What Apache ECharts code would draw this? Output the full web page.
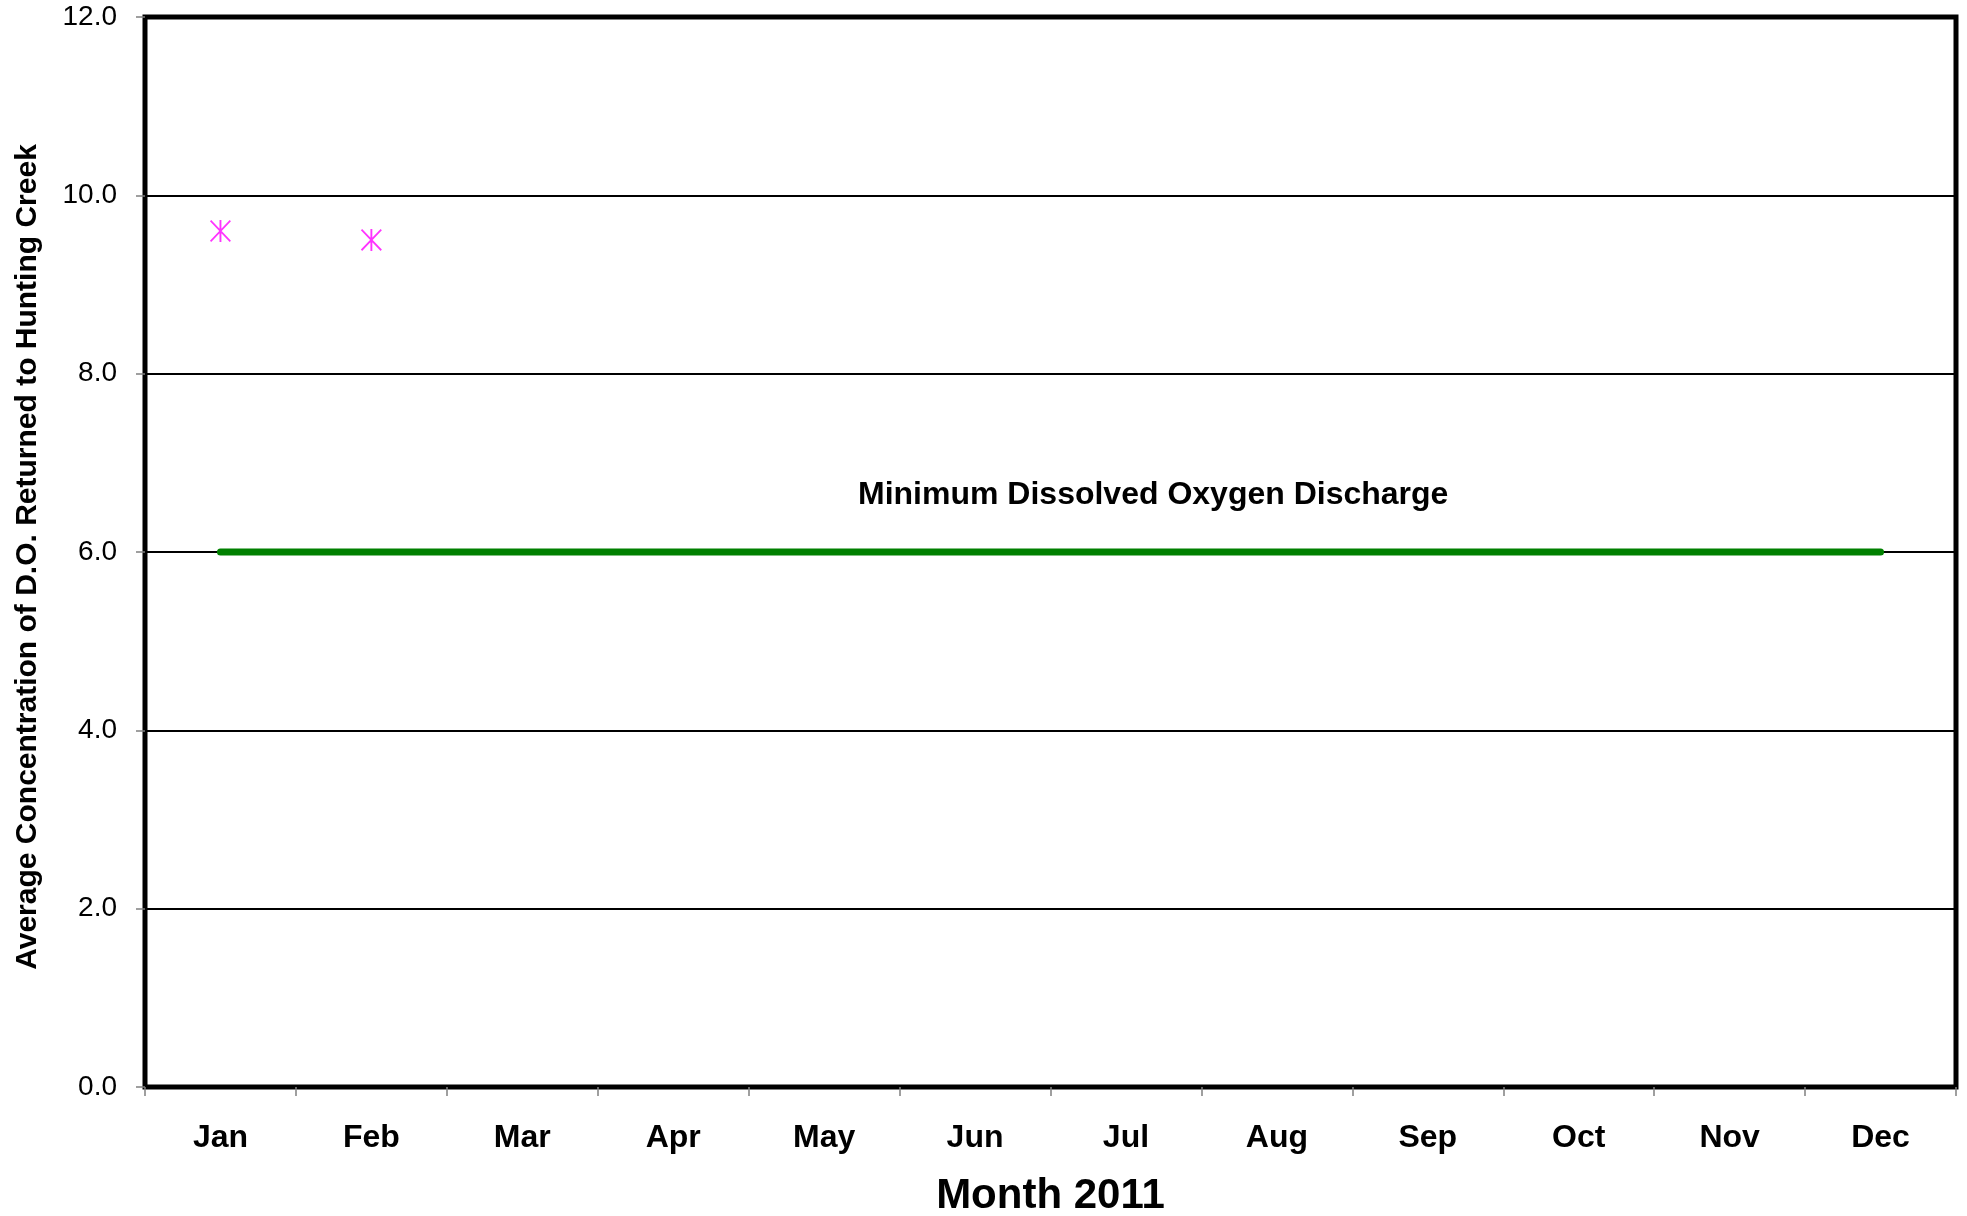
<!DOCTYPE html>
<html>
<head>
<meta charset="utf-8">
<script src="https://cdn.jsdelivr.net/npm/echarts@6/dist/echarts.min.js"></script>
<style>
html,body{margin:0;padding:0;background:#fff;}
#chart{width:1967px;height:1216px;}
</style>
</head>
<body>
<div id="chart"></div>
<script>
// ---- data ----
const months = ['Jan','Feb','Mar','Apr','May','Jun','Jul','Aug','Sep','Oct','Nov','Dec'];
const doValues = [9.6, 9.5, null, null, null, null, null, null, null, null, null, null];
const minimumDO = [6, 6, 6, 6, 6, 6, 6, 6, 6, 6, 6, 6];
const yTicks = [0, 2, 4, 6, 8, 10, 12];
const yAxisTitle = 'Average Concentration of D.O. Returned to Hunting Creek';
const xAxisTitle = 'Month 2011';
const annotationText = 'Minimum Dissolved Oxygen Discharge';

const FONT = '"Liberation Sans", Arial, Helvetica, sans-serif';
const asterisk = 'path://M45.5 0 L54.5 0 L54.5 100 L45.5 100 Z M0 6 L6 0 L100 94 L94 100 Z M94 0 L100 6 L6 100 L0 94 Z';

const chart = echarts.init(document.getElementById('chart'));
chart.setOption({
  animation: false,
  backgroundColor: '#ffffff',
  grid: {
    left: 145, top: 17, right: 11, bottom: 129,
    containLabel: false,
    outerBoundsMode: 'none',
    show: true, borderColor: '#000', borderWidth: 5, backgroundColor: 'transparent'
  },
  xAxis: {
    type: 'category',
    data: months,
    boundaryGap: true,
    axisLine: { show: false },
    axisTick: { show: true, length: 9, lineStyle: { color: '#808080', width: 1.5 } },
    axisLabel: { color: '#000', fontFamily: FONT, fontWeight: 'bold', fontSize: 32, margin: 35 },
    name: xAxisTitle,
    nameLocation: 'middle',
    nameGap: 88,
    nameTextStyle: { color: '#000', fontFamily: FONT, fontWeight: 'bold', fontSize: 42 }
  },
  yAxis: {
    type: 'value',
    min: yTicks[0],
    max: yTicks[yTicks.length - 1],
    interval: yTicks[1] - yTicks[0],
    axisLine: { show: false },
    axisTick: { show: true, length: 9, lineStyle: { color: '#808080', width: 1.5 } },
    axisLabel: { color: '#000', fontFamily: FONT, fontSize: 28, margin: 28,
      formatter: v => v.toFixed(1) },
    splitLine: { show: true, lineStyle: { color: '#000', width: 2 } },
    name: yAxisTitle,
    nameLocation: 'middle',
    nameGap: 102,
    nameTextStyle: { color: '#000', fontFamily: FONT, fontWeight: 'bold', fontSize: 30,
      padding: [0, 10, 0, 0] }
  },
  series: [
    {
      type: 'line',
      data: minimumDO,
      symbol: 'none',
      lineStyle: { color: '#008000', width: 7, cap: 'round' },
      z: 3
    },
    {
      type: 'scatter',
      data: doValues,
      symbol: asterisk,
      symbolSize: [21, 22],
      itemStyle: { color: '#ff00ff' },
      z: 4
    }
  ],
  graphic: [
    {
      type: 'text',
      left: 1152 - 294,
      top: 479,
      style: { text: annotationText, font: 'bold 32px ' + FONT, fill: '#000' }
    }
  ]
});
</script>
</body>
</html>
